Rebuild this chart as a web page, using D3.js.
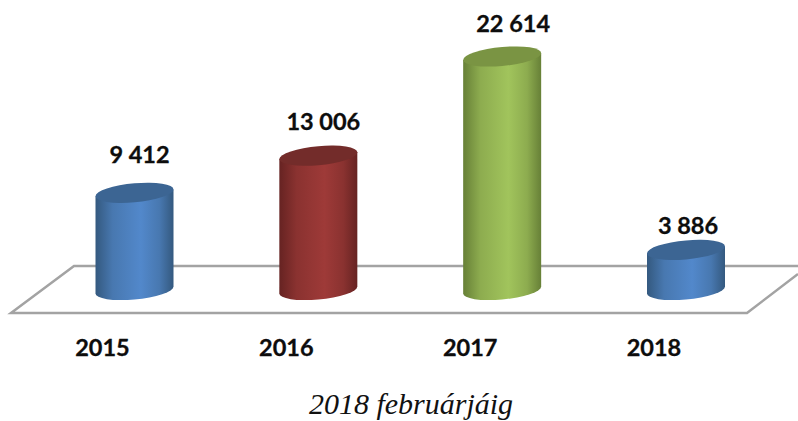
<!DOCTYPE html>
<html><head><meta charset="utf-8">
<script src="https://cdnjs.cloudflare.com/ajax/libs/d3/7.8.5/d3.min.js"></script>
<style>html,body{margin:0;padding:0;background:#fff}svg{display:block}</style>
</head><body><script>
const categories = ["2015","2016","2017","2018"];
const values = [9412,13006,22614,3886];
const valueLabels = ["9 412","13 006","22 614","3 886"];
const caption = "2018 februárjáig";
const edgeColors = ["#34597f","#662322","#678037","#34597f"];
const midColors = ["#5288cb","#9e3a38","#a1c45c","#5288cb"];
const topColors = ["#3c6593","#732c2a","#7a9443","#3c6593"];
const labelDx = [5,5,11,2];
const labelGap = [30,26,24.5,16];

const W=798,H=421;
const svg=d3.select("body").append("svg").attr("width",W).attr("height",H);
const x=d3.scalePoint().domain(categories).range([134.5,686]);
const y=d3.scaleLinear().domain([0,22614]).range([290,56.5]);
const rx=39, ry=9.5, skew=-5;

const defs=svg.append("defs");
categories.forEach((c,i)=>{
  const g=defs.append("linearGradient").attr("id","g"+i).attr("x1",0).attr("x2",1).attr("y1",0).attr("y2",0);
  [[0,edgeColors[i]],[.22,d3.interpolateRgb(edgeColors[i],midColors[i])(.65)],[.58,midColors[i]],[.82,d3.interpolateRgb(edgeColors[i],midColors[i])(.65)],[1,edgeColors[i]]]
    .forEach(([o,col])=>g.append("stop").attr("offset",o).attr("stop-color",col));
});

// floor
const floorY=d3.scaleLinear().domain([0,1]).range([266,313]);
const floor=svg.append("g").attr("fill","none").attr("stroke","#a3a3a3").attr("stroke-width",2.5);
floor.append("path").attr("d",d3.line()([[798,floorY(0)],[74,floorY(0)],[11,floorY(1)],[747,floorY(1)],[798,274]]));

// cylinders
const cyl=svg.append("g").selectAll("g").data(categories).join("g")
  .attr("transform",(c)=>`translate(${x(c)},${y(0)}) skewY(${skew})`);
cyl.append("path").attr("fill",(c,i)=>`url(#g${i})`)
  .attr("d",(c,i)=>{const h=y(0)-y(values[i]);
    return `M${-rx},${-h}L${-rx},0A${rx},${ry} 0 0 0 ${rx},0L${rx},${-h}Z`;});
cyl.append("ellipse").attr("rx",rx).attr("ry",ry)
  .attr("cy",(c,i)=>y(values[i])-y(0))
  .attr("fill",(c,i)=>topColors[i]);

// value labels
svg.append("g").selectAll("text").data(categories).join("text")
  .attr("x",(c,i)=>x(c)+labelDx[i]).attr("y",(c,i)=>y(values[i])-labelGap[i])
  .attr("text-anchor","middle").attr("font-family","Lato").attr("font-weight",700)
  .attr("font-size",23.5).attr("fill","#0d0d0d").attr("stroke","#0d0d0d").attr("stroke-width",0.3).text((c,i)=>valueLabels[i]);

// category labels
svg.append("g").selectAll("text").data(categories).join("text")
  .attr("x",c=>x(c)-32).attr("y",356)
  .attr("text-anchor","middle").attr("font-family","Lato").attr("font-weight",700)
  .attr("font-size",23.5).attr("fill","#0d0d0d").attr("stroke","#0d0d0d").attr("stroke-width",0.3).text(c=>c);

svg.append("text").attr("x",411).attr("y",414).attr("text-anchor","middle")
  .attr("font-family","Liberation Serif").attr("font-style","italic")
  .attr("font-size",30).attr("fill","#111").text(caption);
</script></body></html>
